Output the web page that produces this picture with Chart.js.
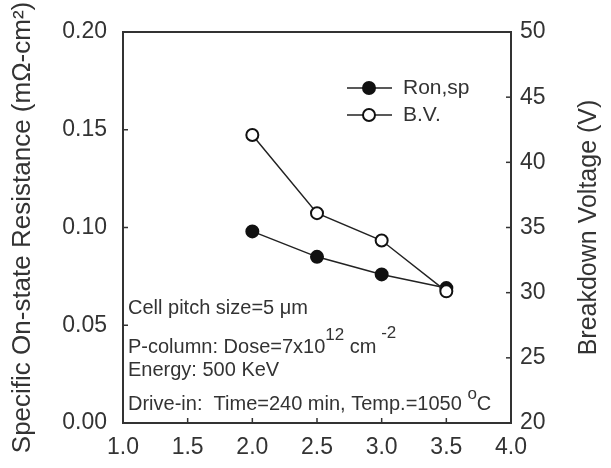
<!DOCTYPE html>
<html>
<head>
<meta charset="utf-8">
<script src="https://cdn.jsdelivr.net/npm/chart.js@4/dist/chart.umd.min.js"></script>
<style>
  html, body { margin: 0; padding: 0; background: #fff; }
  canvas { display: block; }
</style>
</head>
<body>
<canvas id="myChart" width="611" height="468"></canvas>
<script>
// data
const cellPitch = [2.0, 2.5, 3.0, 3.5];
const ronSp = [0.098, 0.085, 0.076, 0.069];
const breakdownV = [42.1, 36.1, 34.0, 30.1];
const seriesNames = ["Ron,sp", "B.V."];

const FONT = "'Liberation Sans', Arial, sans-serif";
const INK = "#333";

// frame, inward ticks, legend, notes and right-hand title
const decorations = {
  id: "decorations",
  afterDraw(chart) {
    const ctx = chart.ctx;
    const a = chart.chartArea;
    ctx.save();

    // box
    ctx.strokeStyle = INK;
    ctx.lineWidth = 2;
    ctx.strokeRect(a.left, a.top, a.right - a.left, a.bottom - a.top);

    // inward ticks
    ctx.lineWidth = 1.5;
    const tick = 5;
    chart.scales.x.ticks.forEach(t => {
      const px = chart.scales.x.getPixelForValue(t.value);
      ctx.beginPath(); ctx.moveTo(px, a.bottom); ctx.lineTo(px, a.bottom - tick); ctx.stroke();
    });
    chart.scales.y.ticks.forEach(t => {
      const py = chart.scales.y.getPixelForValue(t.value);
      ctx.beginPath(); ctx.moveTo(a.left, py); ctx.lineTo(a.left + tick, py); ctx.stroke();
    });
    chart.scales.y2.ticks.forEach(t => {
      const py = chart.scales.y2.getPixelForValue(t.value);
      ctx.beginPath(); ctx.moveTo(a.right, py); ctx.lineTo(a.right - tick, py); ctx.stroke();
    });

    // legend (line + marker + label)
    const legendRows = [
      { ds: chart.data.datasets[1], y: 88 },
      { ds: chart.data.datasets[0], y: 115 }
    ];
    ctx.font = "21px " + FONT;
    ctx.textBaseline = "middle";
    ctx.textAlign = "left";
    legendRows.forEach(r => {
      ctx.strokeStyle = r.ds.borderColor;
      ctx.lineWidth = 1.5;
      ctx.beginPath(); ctx.moveTo(347, r.y); ctx.lineTo(392, r.y); ctx.stroke();
      ctx.beginPath();
      ctx.arc(369, r.y, r.ds.pointRadius, 0, Math.PI * 2);
      ctx.fillStyle = r.ds.pointBackgroundColor;
      ctx.fill();
      ctx.lineWidth = r.ds.pointBorderWidth;
      ctx.strokeStyle = r.ds.pointBorderColor;
      ctx.stroke();
      ctx.fillStyle = INK;
      ctx.fillText(r.ds.label, 403, r.y);
    });

    // process notes
    const big = "20px " + FONT, sup = "17px " + FONT;
    const x0 = 128;
    ctx.fillStyle = INK;
    ctx.font = big;
    ctx.fillText("Cell pitch size=5 \u03bcm", x0, 308);

    let x = x0;
    const put = (txt, f, y) => { ctx.font = f; ctx.fillText(txt, x, y); x += ctx.measureText(txt).width; };
    put("P-column: Dose=7x10", big, 347);
    put("12", sup, 335);
    put(" cm", big, 347);
    put(" -2", sup, 333);

    ctx.font = big;
    ctx.fillText("Energy: 500 KeV", x0, 370);

    x = x0;
    put("Drive-in:  Time=240 min, Temp.=1050 ", big, 404);
    put("o", sup, 394);
    put("C", big, 404);

    // right axis title, reads bottom to top
    ctx.font = "25px " + FONT;
    ctx.textAlign = "center";
    ctx.translate(589, (a.top + a.bottom) / 2);
    ctx.rotate(-Math.PI / 2);
    ctx.fillText("Breakdown Voltage (V)", 0, 0);

    ctx.restore();
  }
};

const ctx = document.getElementById("myChart").getContext("2d");

const myChart = new Chart(ctx, {
  type: "line",
  data: {
    datasets: [
      {
        label: seriesNames[1],
        data: cellPitch.map((v, i) => ({ x: v, y: breakdownV[i] })),
        yAxisID: "y2",
        order: 0,
        borderColor: "#222",
        borderWidth: 1.5,
        pointRadius: 6,
        pointBackgroundColor: "#fff",
        pointBorderColor: "#111",
        pointBorderWidth: 2
      },
      {
        label: seriesNames[0],
        data: cellPitch.map((v, i) => ({ x: v, y: ronSp[i] })),
        yAxisID: "y",
        order: 1,
        borderColor: "#222",
        borderWidth: 1.5,
        pointRadius: 6,
        pointBackgroundColor: "#111",
        pointBorderColor: "#111",
        pointBorderWidth: 2
      }
    ]
  },
  options: {
    responsive: false,
    animation: false,
    devicePixelRatio: 1,
    layout: { padding: { top: 32, left: 0, right: 0, bottom: 0 } },
    plugins: { legend: { display: false }, tooltip: { enabled: false } },
    scales: {
      x: {
        type: "linear",
        min: 1, max: 4,
        afterFit: s => { s.height = 45; },
        grid: { display: false, drawTicks: false },
        border: { display: false },
        ticks: {
          stepSize: 0.5,
          padding: 11,
          color: INK,
          font: { family: FONT, size: 23 },
          callback: v => v.toFixed(1)
        }
      },
      y: {
        position: "left",
        min: 0, max: 0.2,
        afterFit: s => { s.width = 123; },
        grid: { display: false, drawTicks: false },
        border: { display: false },
        ticks: {
          stepSize: 0.05,
          padding: 16,
          color: INK,
          font: { family: FONT, size: 23 },
          callback: v => v.toFixed(2)
        },
        title: {
          display: true,
          text: "Specific On-state Resistance (m\u03a9-cm\u00b2)",
          color: INK,
          font: { family: FONT, size: 26 },
          padding: { top: 7, bottom: 0 }
        }
      },
      y2: {
        position: "right",
        min: 20, max: 50,
        afterFit: s => { s.width = 100; },
        grid: { display: false, drawTicks: false },
        border: { display: false },
        ticks: {
          stepSize: 5,
          padding: 9,
          color: INK,
          font: { family: FONT, size: 23 }
        }
      }
    }
  },
  plugins: [decorations]
});
</script>
</body>
</html>
